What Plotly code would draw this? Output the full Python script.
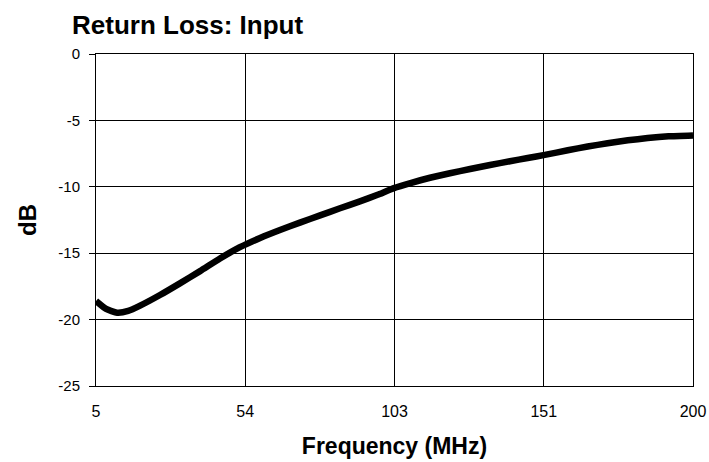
import plotly.graph_objects as go

# Frequency (MHz) and return loss (dB)
freq_mhz = [5, 8.3, 11.9, 15.5, 19.4, 25.9, 32.4, 39.0, 45.5, 52.0, 58.6, 65.1,
            71.6, 78.2, 84.7, 91.2, 97.0, 102.3, 108.0, 114.1, 120.6, 127.2,
            133.7, 140.2, 146.0, 151.6, 159.1, 165.6, 172.1, 178.7, 185.2, 192.0, 200]
return_loss_db = [-18.6, -19.2, -19.48, -19.35, -18.95, -18.15, -17.27, -16.35, -15.4, -14.55,
                  -13.85, -13.25, -12.7, -12.15, -11.62, -11.1, -10.6, -10.1, -9.7, -9.32,
                  -8.98, -8.66, -8.36, -8.08, -7.83, -7.6, -7.25, -6.97, -6.72, -6.5, -6.33,
                  -6.2, -6.13]

x_tick_vals = [5, 53.75, 102.5, 151.25, 200]
x_tick_text = ["5", "54", "103", "151", "200"]
y_tick_vals = [0, -5, -10, -15, -20, -25]
y_tick_text = ["0", "-5", "-10", "-15", "-20", "-25"]

FONT = "Liberation Sans, Arial, sans-serif"

fig = go.Figure()
fig.add_trace(go.Scatter(
    x=freq_mhz, y=return_loss_db, mode="lines",
    line=dict(color="black", width=6.5, shape="spline", smoothing=0.5),
    showlegend=False, hoverinfo="skip",
))

fig.update_layout(
    width=709, height=462,
    margin=dict(l=96, r=16, t=54, b=76, autoexpand=False),
    paper_bgcolor="white", plot_bgcolor="white",
    font=dict(family=FONT, color="black", size=14),
    title=dict(text="<b>Return Loss: Input</b>", x=72/709, xref="container",
               xanchor="left", y=1-25/462, yref="container", yanchor="middle",
               pad=dict(l=0, r=0, t=0, b=0),
               font=dict(family=FONT, size=26, color="black")),
)
fig.update_xaxes(
    range=[5, 200], tickvals=x_tick_vals, ticktext=x_tick_text,
    showgrid=True, gridcolor="black", gridwidth=1,
    showline=True, linecolor="black", linewidth=1, mirror=True,
    ticks="", zeroline=False, automargin=False, ticklabelstandoff=11,
    tickfont=dict(family=FONT, size=16, color="black"),
    title=dict(text="<b>Frequency (MHz)</b>", standoff=18,
               font=dict(family=FONT, size=23, color="black")),
)
fig.update_yaxes(
    range=[-25, 0], tickvals=y_tick_vals, ticktext=y_tick_text,
    showgrid=True, gridcolor="black", gridwidth=1,
    showline=True, linecolor="black", linewidth=1, mirror=True,
    ticks="outside", ticklen=6, tickcolor="black", ticklabelstandoff=6,
    zeroline=False, automargin=False,
    tickfont=dict(family=FONT, size=15, color="black"),
    title=dict(text="<b>dB</b>", standoff=14,
               font=dict(family=FONT, size=24, color="black")),
)

fig.write_html("out.html", config={"displayModeBar": False},
               post_script="document.body.style.margin='0';")
